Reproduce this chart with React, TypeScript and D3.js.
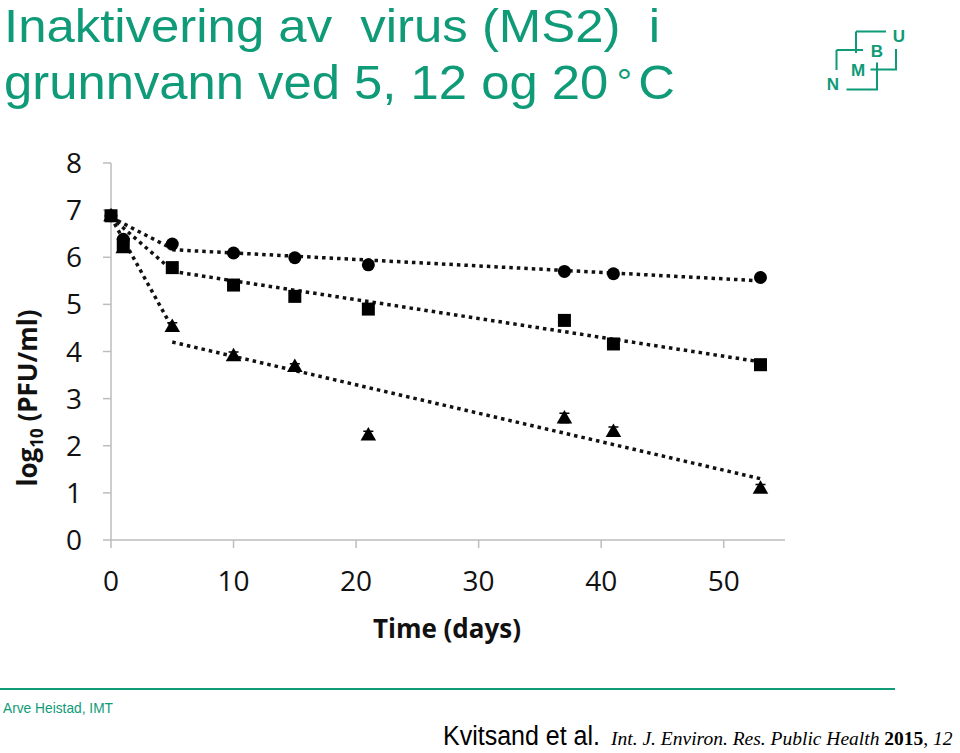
import React from "react";
import * as d3 from "d3";

const days = [0, 1, 5, 10, 15, 21, 37, 41, 53];
const circleVals = [6.88, 6.38, 6.28, 6.09, 5.99, 5.84, 5.70, 5.65, 5.57];
const squareVals = [6.88, 6.27, 5.78, 5.41, 5.17, 4.90, 4.66, 4.16, 3.72];
const triangleVals = [6.88, 6.20, 4.53, 3.91, 3.68, 2.23, 2.59, 2.30, 1.10];
const triangleErr = [0, 0, 0.08, 0.08, 0.06, 0.08, 0.1, 0.1, 0.08];

// biphasic trend lines: [t0, y0, t1, y1]
const trendLines = [
  [0, 6.85, 5, 6.18],
  [5, 6.16, 53, 5.5],
  [0, 6.85, 5, 5.72],
  [5, 5.7, 53, 3.78],
  [0, 6.85, 5, 4.5],
  [5, 4.2, 53, 1.3],
];

const xTicks = [0, 10, 20, 30, 40, 50];
const yTicks = [0, 1, 2, 3, 4, 5, 6, 7, 8];

const GREEN = "#0f9a78";
const AXIS = "#bdbdbd";
const FONT = "'Open Sans', sans-serif";
const SANS = "'Liberation Sans', Arial, sans-serif";

export default function App() {
  const x = d3.scaleLinear().domain([0, 55]).range([111, 785]);
  const y = d3.scaleLinear().domain([0, 8]).range([540, 163]);
  const line = d3.line<[number, number]>().x((d) => x(d[0])).y((d) => y(d[1]));
  const tri = d3.symbol().type(d3.symbolTriangle).size(105)();

  return (
    <svg
      width={960}
      height={753}
      style={{ position: "absolute", left: 0, top: 0, background: "#fff" }}
    >
      {/* title */}
      <g fill={GREEN} fontFamily={SANS}>
        <text x={4} y={42} fontSize={46} textLength={656} lengthAdjust="spacingAndGlyphs" xmlSpace="preserve">
          Inaktivering av  virus (MS2)  i
        </text>
        <text x={4} y={99} fontSize={48} textLength={671} lengthAdjust="spacingAndGlyphs">
          grunnvann ved 5, 12 og 20<tspan dx={8} dy={-4} fontSize={36}>°</tspan>
          <tspan dx={6} dy={4}>C</tspan>
        </text>
      </g>

      {/* NMBU logo */}
      <g stroke={GREEN} strokeWidth={2} fill="none">
        <path d="M856,31.5H886M856,31.5V53" />
        <path d="M836.5,50H863M836.5,50V70" />
        <path d="M896,49V69.5H870.5" />
        <path d="M877,62.5V89.5H846.5" />
      </g>
      <g fill={GREEN} fontFamily={SANS} fontWeight="bold" fontSize={17} textAnchor="middle">
        <text x={833} y={90}>N</text>
        <text x={858} y={76}>M</text>
        <text x={877} y={57}>B</text>
        <text x={899} y={42}>U</text>
      </g>

      {/* axes */}
      <g stroke={AXIS} strokeWidth={1.5}>
        <line x1={x(0)} x2={x(0)} y1={y(0)} y2={y(8)} />
        <line x1={x(0)} x2={x(55)} y1={y(0)} y2={y(0)} />
        {yTicks.map((t) => (
          <line key={"yt" + t} x1={x(0) - 8} x2={x(0)} y1={y(t)} y2={y(t)} />
        ))}
        {xTicks.map((t) => (
          <line key={"xt" + t} x1={x(t)} x2={x(t)} y1={y(0)} y2={y(0) + 8} />
        ))}
      </g>
      <g fontFamily={FONT} fontSize={28} fill="#111">
        {yTicks.map((t) => (
          <text key={"yl" + t} x={x(0) - 29} y={y(t)} dy="0.36em" textAnchor="end">
            {t}
          </text>
        ))}
        {xTicks.map((t) => (
          <text key={"xl" + t} x={x(t)} y={y(0) + 51} textAnchor="middle">
            {t}
          </text>
        ))}
      </g>
      <text x={447} y={638} textAnchor="middle" fontFamily={FONT} fontWeight="bold" fontSize={26} fill="#111">
        Time (days)
      </text>
      <text
        transform="translate(37,398) rotate(-90)"
        textAnchor="middle"
        fontFamily={FONT}
        fontWeight="bold"
        fontSize={26}
        fill="#111"
      >
        log<tspan fontSize={17} dy={6}>10</tspan>
        <tspan dy={-6}> (PFU/ml)</tspan>
      </text>

      {/* trend lines */}
      <g stroke="#111" strokeWidth={3.5} strokeDasharray="3.5 4" fill="none">
        {trendLines.map((s, i) => (
          <path key={"tl" + i} d={line([[s[0], s[1]], [s[2], s[3]]]) ?? ""} />
        ))}
      </g>

      {/* markers */}
      <g fill="#000">
        {days.map((d, i) => (
          <circle key={"c" + i} cx={x(d)} cy={y(circleVals[i])} r={6.5} />
        ))}
        {days.map((d, i) => (
          <rect key={"s" + i} x={x(d) - 6.5} y={y(squareVals[i]) - 6.5} width={13} height={13} />
        ))}
        {days.map((d, i) => (
          <g key={"t" + i}>
            {triangleErr[i] > 0 && (
              <path
                d={`M${x(d)},${y(triangleVals[i] + triangleErr[i])}V${y(triangleVals[i] - triangleErr[i])}M${x(d) - 5},${y(
                  triangleVals[i] + triangleErr[i]
                )}H${x(d) + 5}M${x(d) - 5},${y(triangleVals[i] - triangleErr[i])}H${x(d) + 5}`}
                stroke="#000"
                strokeWidth={1.5}
              />
            )}
            <path d={tri ?? ""} transform={`translate(${x(d)},${y(triangleVals[i]) + 1})`} />
          </g>
        ))}
      </g>

      {/* footer */}
      <line x1={0} x2={895} y1={689} y2={689} stroke={GREEN} strokeWidth={2} />
      <text x={3} y={713} fill={GREEN} fontFamily={SANS} fontSize={15} textLength={110} lengthAdjust="spacingAndGlyphs">
        Arve Heistad, IMT
      </text>
      <text x={443} y={745} fill="#000" fontFamily={SANS} fontSize={27} textLength={157} lengthAdjust="spacingAndGlyphs">
        Kvitsand et al.
      </text>
      <text x={611} y={745} fill="#000" fontFamily="'Liberation Serif', 'Times New Roman', serif" fontSize={19.5}>
        <tspan fontStyle="italic">Int. J. Environ. Res. Public Health </tspan>
        <tspan fontWeight="bold">2015</tspan>
        <tspan>, </tspan>
        <tspan fontStyle="italic">12</tspan>
      </text>
    </svg>
  );
}
